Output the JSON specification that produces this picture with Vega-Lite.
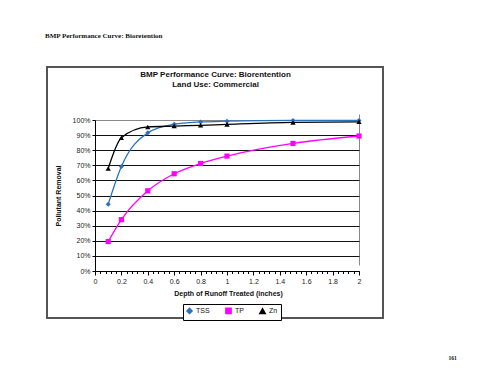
{
  "$schema": "https://vega.github.io/schema/vega-lite/v6.json",
  "width": 336,
  "height": 251,
  "autosize": {"type": "none"},
  "padding": {"left": 47, "top": 67, "right": 117, "bottom": 68},
  "background": "white",
  "config": {
    "view": {"stroke": "#555555", "strokeWidth": 2},
    "font": "Liberation Sans"
  },
  "title": {
    "text": "BMP Performance Curve: Bioretention",
    "anchor": "start",
    "frame": "group",
    "font": "Liberation Serif",
    "fontSize": 7,
    "fontWeight": "bold",
    "color": "#111111",
    "offset": 28,
    "dx": -2
  },
  "data": {
    "values": [
      {"pollutant": "TSS", "depth": 0.1, "removal": 0.442},
      {"pollutant": "TSS", "depth": 0.2, "removal": 0.692},
      {"pollutant": "TSS", "depth": 0.4, "removal": 0.915},
      {"pollutant": "TSS", "depth": 0.6, "removal": 0.972},
      {"pollutant": "TSS", "depth": 0.8, "removal": 0.987},
      {"pollutant": "TSS", "depth": 1.0, "removal": 0.992},
      {"pollutant": "TSS", "depth": 1.5, "removal": 0.997},
      {"pollutant": "TSS", "depth": 2.0, "removal": 0.997},
      {"pollutant": "TP", "depth": 0.1, "removal": 0.195},
      {"pollutant": "TP", "depth": 0.2, "removal": 0.34},
      {"pollutant": "TP", "depth": 0.4, "removal": 0.531},
      {"pollutant": "TP", "depth": 0.6, "removal": 0.644},
      {"pollutant": "TP", "depth": 0.8, "removal": 0.712},
      {"pollutant": "TP", "depth": 1.0, "removal": 0.761},
      {"pollutant": "TP", "depth": 1.5, "removal": 0.845},
      {"pollutant": "TP", "depth": 2.0, "removal": 0.894},
      {"pollutant": "Zn", "depth": 0.1, "removal": 0.679},
      {"pollutant": "Zn", "depth": 0.2, "removal": 0.883},
      {"pollutant": "Zn", "depth": 0.4, "removal": 0.954},
      {"pollutant": "Zn", "depth": 0.6, "removal": 0.96},
      {"pollutant": "Zn", "depth": 0.8, "removal": 0.965},
      {"pollutant": "Zn", "depth": 1.0, "removal": 0.971},
      {"pollutant": "Zn", "depth": 1.5, "removal": 0.984},
      {"pollutant": "Zn", "depth": 2.0, "removal": 0.988}
    ]
  },
  "layer": [
    {
      "mark": {"type": "line", "interpolate": "monotone", "strokeWidth": 1.3},
      "encoding": {
        "x": {
          "field": "depth",
          "type": "quantitative",
          "scale": {"domain": [0, 2], "range": [48, 312], "nice": false, "zero": false},
          "axis": {
            "orient": "bottom",
            "offset": -47,
            "values": [0, 0.04, 0.08, 0.12, 0.16, 0.2, 0.24, 0.28, 0.32, 0.36, 0.4, 0.44, 0.48, 0.52, 0.56, 0.6, 0.64, 0.68, 0.72, 0.76, 0.8, 0.84, 0.88, 0.92, 0.96, 1, 1.04, 1.08, 1.12, 1.16, 1.2, 1.24, 1.28, 1.32, 1.36, 1.4, 1.44, 1.48, 1.52, 1.56, 1.6, 1.64, 1.68, 1.72, 1.76, 1.8, 1.84, 1.88, 1.92, 1.96, 2],
            "labelExpr": "abs(datum.value*5 - round(datum.value*5)) < 0.01 ? format(datum.value, '.1~f') : ''",
            "labelFlush": false,
            "labelOverlap": false,
            "labelBound": false,
            "labelFontSize": 7,
            "labelColor": "#222222",
            "labelPadding": 2,
            "tickSize": {"condition": {"test": "abs(datum.value*5 - round(datum.value*5)) < 0.01", "value": 4}, "value": 2.5},
            "tickColor": "#000000",
            "domainColor": "#000000",
            "grid": true,
            "gridColor": "#888888",
            "gridOpacity": {"condition": {"test": "datum.value > 1.99", "value": 1}, "value": 0},
            "title": "Depth of Runoff Treated (inches)",
            "titleX": 181,
            "titleY": 22,
            "titleAlign": "center",
            "titleBaseline": "middle",
            "titleFontSize": 7,
            "titleFontWeight": "bold",
            "titleColor": "#111111"
          }
        },
        "y": {
          "field": "removal",
          "type": "quantitative",
          "scale": {"domain": [0, 1], "range": [204, 53], "nice": false, "zero": false},
          "axis": {
            "orient": "left",
            "offset": -48,
            "values": [0, 0.1, 0.2, 0.3, 0.4, 0.5, 0.6, 0.7, 0.8, 0.9, 1],
            "format": ".0%",
            "labelFontSize": 7,
            "labelColor": "#222222",
            "labelPadding": 2,
            "tickSize": 3,
            "tickColor": "#000000",
            "domainColor": "#000000",
            "grid": true,
            "gridColor": {"condition": {"test": "datum.value > 0.99", "value": "#888888"}, "value": "#111111"},
            "gridWidth": 1,
            "title": "Pollutant Removal",
            "titleX": -37,
            "titleY": 128.5,
            "titleAngle": 270,
            "titleAlign": "center",
            "titleBaseline": "middle",
            "titleFontSize": 7,
            "titleFontWeight": "bold",
            "titleColor": "#111111"
          }
        },
        "color": {
          "field": "pollutant",
          "type": "nominal",
          "scale": {"domain": ["TSS", "TP", "Zn"], "range": ["#2a72c0", "#ff00ff", "#000000"]},
          "legend": {
            "title": null,
            "orient": "none",
            "legendX": 136,
            "legendY": 237,
            "direction": "horizontal",
            "strokeColor": "#000000",
            "fillColor": "#ffffff",
            "padding": 3,
            "labelFontSize": 7,
            "labelColor": "#111111",
            "symbolSize": 26,
            "columnPadding": 12,
            "labelOffset": 3
          }
        }
      }
    },
    {
      "mark": {"type": "point", "filled": true, "opacity": 1},
      "encoding": {
        "x": {
          "field": "depth",
          "type": "quantitative",
          "axis": {
            "orient": "top",
            "ticks": false,
            "labels": false,
            "domain": false,
            "grid": false,
            "title": ["BMP Performance Curve: Biorentention", "Land Use: Commercial"],
            "titleX": 168,
            "titleY": 3,
            "titleAlign": "center",
            "titleBaseline": "top",
            "titleFontSize": 8,
            "titleFontWeight": "bold",
            "titleLineHeight": 10,
            "titleColor": "#111111"
          }
        },
        "y": {
          "field": "removal",
          "type": "quantitative",
          "axis": {
            "orient": "right",
            "ticks": false,
            "labels": false,
            "domain": false,
            "grid": false,
            "title": "161",
            "titleAngle": 0,
            "titleX": 69,
            "titleY": 290,
            "titleAlign": "center",
            "titleBaseline": "middle",
            "titleFont": "Liberation Serif",
            "titleFontSize": 5.5,
            "titleFontWeight": "bold",
            "titleColor": "#111111"
          }
        },
        "color": {"field": "pollutant", "type": "nominal"},
        "shape": {
          "field": "pollutant",
          "type": "nominal",
          "scale": {"domain": ["TSS", "TP", "Zn"], "range": ["diamond", "square", "triangle-up"]},
          "legend": {
            "title": null,
            "orient": "none",
            "legendX": 136,
            "legendY": 237,
            "direction": "horizontal",
            "strokeColor": "#000000",
            "fillColor": "#ffffff",
            "padding": 3,
            "labelFontSize": 7,
            "labelColor": "#111111",
            "symbolSize": 26,
            "columnPadding": 12,
            "labelOffset": 3
          }
        },
        "size": {
          "field": "pollutant",
          "type": "nominal",
          "scale": {"domain": ["TSS", "TP", "Zn"], "range": [26, 28, 11]},
          "legend": null
        }
      }
    }
  ],
  "resolve": {"axis": {"x": "independent", "y": "independent"}}
}
